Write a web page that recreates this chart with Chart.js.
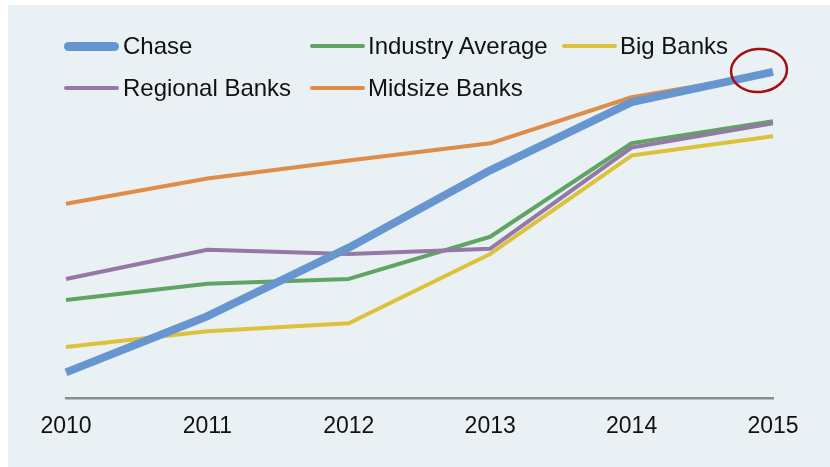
<!DOCTYPE html>
<html>
<head>
<meta charset="utf-8">
<script src="https://cdn.jsdelivr.net/npm/chart.js@4/dist/chart.umd.min.js"></script>
<style>
  html, body { margin: 0; padding: 0; background: #ffffff; }
  #wrap { position: relative; width: 830px; height: 467px; overflow: hidden; }
  #panel { position: absolute; left: 8px; top: 5px; width: 822px; height: 462px; background: #e9f1f5; }
  #chart { position: absolute; left: 0; top: 0; }
  .leg { position: absolute; font-family: "Liberation Sans", Arial, sans-serif; font-size: 24px; color: #111; white-space: nowrap; line-height: 1; }
  .sw { position: absolute; height: 4px; }
</style>
</head>
<body>
<div id="wrap">
  <div id="panel"></div>
  <canvas id="chart" width="830" height="467"></canvas>
  <div id="legend"></div>
</div>
<script>
const years = ["2010", "2011", "2012", "2013", "2014", "2015"];
const chase = [7.4, 23.4, 42.9, 64.9, 84.3, 92.9];
const industryAverage = [28.0, 32.6, 34.0, 46.0, 72.6, 78.9];
const bigBanks = [14.6, 19.1, 21.4, 41.1, 69.1, 74.6];
const regionalBanks = [34.0, 42.3, 41.1, 42.6, 71.4, 78.3];
const midsizeBanks = [55.4, 62.6, 67.7, 72.6, 85.7, 92.6];

const seriesNames = ["Chase", "Industry Average", "Big Banks", "Regional Banks", "Midsize Banks"];
const seriesValues = [chase, industryAverage, bigBanks, regionalBanks, midsizeBanks];
const seriesColors = ["#6795d0", "#5fa463", "#dcc23a", "#9478a5", "#de8c47"];
const seriesWidths = [8, 4, 4, 4, 4];
const seriesOrder = [0, 2, 4, 1, 5];

const datasets = seriesNames.map((n, i) => ({
  label: n,
  data: seriesValues[i],
  borderColor: seriesColors[i],
  backgroundColor: seriesColors[i],
  borderWidth: seriesWidths[i],
  pointRadius: 0,
  pointHoverRadius: 0,
  tension: 0,
  fill: false,
  borderJoinStyle: 'round',
  order: seriesOrder[i]
}));

// HTML legend (3-column grid)
const legendPos = [
  {lx: 64, tx: 123, y: 46},
  {lx: 310, tx: 368, y: 46},
  {lx: 562, tx: 620, y: 46},
  {lx: 64, tx: 123, y: 88},
  {lx: 310, tx: 368, y: 88}
];
const legendEl = document.getElementById('legend');
seriesNames.forEach((n, i) => {
  const p = legendPos[i];
  const sw = document.createElement('div');
  sw.className = 'sw';
  const h = i === 0 ? 9 : 4;
  sw.style.left = p.lx + 'px';
  sw.style.width = '55px';
  sw.style.top = (p.y - h / 2) + 'px';
  sw.style.height = h + 'px';
  sw.style.borderRadius = (h / 2) + 'px';
  sw.style.background = seriesColors[i];
  legendEl.appendChild(sw);
  const t = document.createElement('div');
  t.className = 'leg';
  t.textContent = n;
  t.style.left = p.tx + 'px';
  t.style.top = (p.y - 12) + 'px';
  legendEl.appendChild(t);
});

const circlePlugin = {
  id: 'circleMark',
  afterDatasetsDraw(chart) {
    const meta = chart.getDatasetMeta(0);
    const pt = meta.data[meta.data.length - 1];
    const ctx = chart.ctx;
    ctx.save();
    ctx.strokeStyle = '#a50d12';
    ctx.lineWidth = 2.5;
    ctx.beginPath();
    ctx.ellipse(pt.x - 14, pt.y - 1.5, 28, 21.5, -0.08, 0, Math.PI * 2);
    ctx.stroke();
    ctx.restore();
  }
};

new Chart(document.getElementById('chart'), {
  type: 'line',
  data: { labels: years, datasets },
  options: {
    responsive: false,
    animation: false,
    events: [],
    layout: { padding: { left: 66, right: 57, top: 47, bottom: 13 } },
    plugins: { legend: { display: false }, tooltip: { enabled: false } },
    scales: {
      x: {
        offset: false,
        grid: { display: false, drawTicks: false },
        border: { display: true, color: '#8c8c8c', width: 2.5 },
        ticks: {
          color: '#111',
          padding: 14,
          maxRotation: 0,
          autoSkip: false,
          font: { family: '"Liberation Sans", Arial, sans-serif', size: 23 }
        }
      },
      y: {
        display: false,
        min: 0,
        max: 100
      }
    }
  },
  plugins: [circlePlugin]
});
</script>
</body>
</html>
